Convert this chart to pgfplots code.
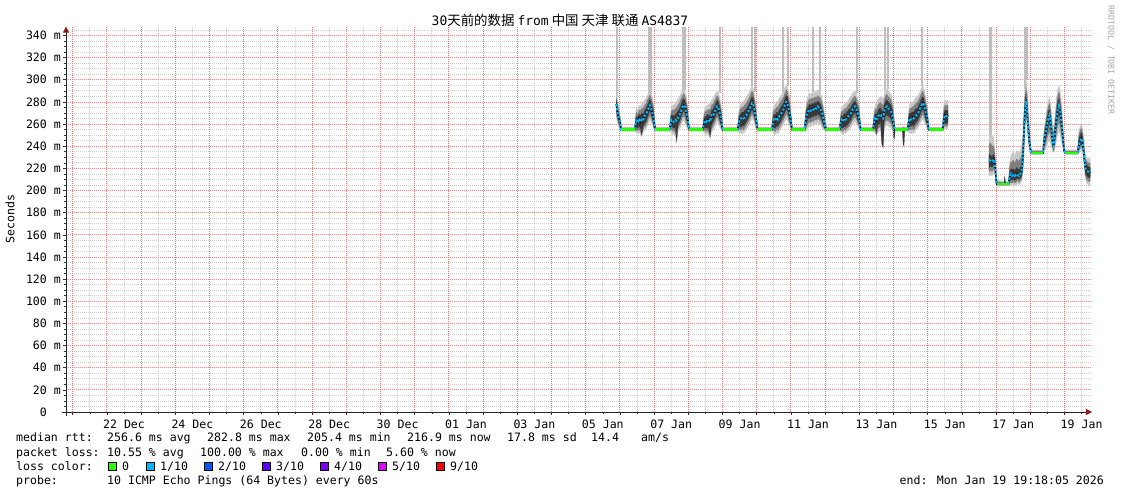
\documentclass[border=0pt]{standalone}
\usepackage{pgfplots}
\usepackage{pgfplotstable}
\pgfplotsset{compat=1.18}
\usepgfplotslibrary{fillbetween}
\usetikzlibrary{arrows.meta}
\usepackage{fontspec}
\setmainfont{DejaVu Sans Mono}
\newfontfamily\cjk{Noto Sans CJK SC}
\definecolor{lc0}{HTML}{26FF00}
\definecolor{lc1}{HTML}{00B8FF}
\definecolor{lc2}{HTML}{0059FF}
\definecolor{lc3}{HTML}{5E00FF}
\definecolor{lc4}{HTML}{7E00FF}
\definecolor{lc5}{HTML}{DD00FF}
\definecolor{lc9}{HTML}{FF0000}
\definecolor{mgrid}{HTML}{EE8C8C}
\definecolor{mgridx}{HTML}{E87878}
\definecolor{sgrid}{HTML}{D0D0D0}
\definecolor{arrowred}{HTML}{8B1A1A}
\definecolor{smokeA}{HTML}{C8C8C8}
\definecolor{smokeB}{HTML}{808080}
\definecolor{smokeC}{HTML}{383838}
\definecolor{spike}{HTML}{BEBEBE}
\newcommand\tf{\fontsize{11.6}{13}\selectfont}

\pgfplotstableread{
d lo cl m ch hi
15.89 266 273 278 282 288
15.92 262 268 273 278 285
15.95 258 263 267 271 280
15.98 256 260 264 267 274
16.01 254 256 261 264 270
16.03 253.5 254.3 255 256.5 262
16.06 253.5 254.3 255 255.8 257.5
16.43 253.5 254.3 255 255.8 257.5
16.45 253 255 259 263 268
16.48 252 257 263 267 275
16.52 251 256 261 266 273
16.56 252 258 265 269 277
16.60 250 256 262 268 276
16.64 248 250 264 270 279
16.68 252 258 263 269 280
16.72 254 260 267 272 282
16.76 255 262 269 274 283
16.80 257 265 271 277 286
16.84 261 269 275 280 289
16.88 263 272 277 283 291
16.92 261 268 274 279 288
16.96 258 263 269 275 284
16.99 255 259 265 270 278
17.02 253.5 254.3 256 260 266
17.05 253.5 254.3 255 255.8 257.5
17.45 253.5 254.3 255 255.8 257.5
17.47 253 256 258 262 268
17.50 252 258 264 268 276
17.54 251 257 263 268 277
17.58 250 256 262 267 278
17.62 249 256 264 269 279
17.66 242 244 263 270 281
17.70 253 259 266 272 283
17.74 255 262 268 274 285
17.78 257 265 271 277 288
17.82 261 269 275 281 290
17.86 263 272 277 283 292
17.90 261 270 276 282 291
17.94 258 264 270 276 286
17.98 255 260 266 271 279
18.01 253.5 254.3 257 261 267
18.04 253.5 254.3 255 255.8 257.5
18.42 253.5 254.3 255 255.8 257.5
18.44 253 255 258 262 268
18.48 251 257 263 267 275
18.52 250 256 262 267 276
18.56 251 257 264 269 277
18.60 249 255 263 268 278
18.64 247 248 262 268 279
18.68 252 259 268 273 282
18.72 254 261 267 273 283
18.76 256 264 270 276 286
18.80 259 267 273 279 288
18.84 262 271 276 282 290
18.88 260 268 275 280 289
18.92 257 263 270 276 285
18.96 255 259 266 271 279
18.99 253.5 254.3 257 261 267
19.02 253.5 254.3 255 255.8 257.5
19.44 253.5 254.3 255 255.8 257.5
19.46 253 256 259 263 269
19.50 252 258 264 268 277
19.54 251 257 265 270 279
19.58 252 259 266 271 280
19.62 251 258 265 271 281
19.66 253 260 267 273 283
19.70 255 262 268 274 285
19.74 257 264 270 276 287
19.78 259 267 273 279 289
19.82 262 270 276 282 292
19.86 264 273 279 285 295
19.90 263 271 278 284 293
19.94 259 265 272 277 287
19.98 255 260 266 271 280
20.01 253.5 254.3 257 261 267
20.04 253.5 254.3 255 255.8 257.5
20.44 253.5 254.3 255 255.8 257.5
20.46 253 256 259 263 270
20.50 251 257 264 269 277
20.54 250 256 263 268 278
20.58 252 258 266 271 280
20.62 251 258 264 270 281
20.66 253 260 267 273 284
20.70 255 262 269 275 286
20.74 257 265 271 277 288
20.78 259 267 273 279 290
20.82 262 270 277 283 293
20.86 264 273 280 286 296
20.90 263 272 279 285 295
20.94 259 266 273 279 289
20.98 256 261 268 273 282
21.02 253.5 254.3 257 261 267
21.05 253.5 254.3 255 255.8 257.5
21.40 253.5 254.3 255 255.8 257.5
21.42 253 257 262 266 272
21.46 254 261 268 273 282
21.50 256 264 271 276 286
21.54 258 266 273 278 288
21.58 257 265 272 277 287
21.62 259 267 274 279 289
21.66 258 266 273 278 288
21.70 260 268 275 280 290
21.74 259 267 274 279 289
21.78 261 269 276 281 291
21.82 260 268 275 280 290
21.86 259 267 274 279 289
21.90 257 264 271 276 286
21.94 255 260 266 271 280
21.98 254 257 261 265 272
22.02 253.5 254.3 255.5 258 264
22.05 253.5 254.3 255 255.8 257.5
22.42 253.5 254.3 255 255.8 257.5
22.44 253 255 259 263 268
22.48 251 257 264 268 276
22.52 250 256 262 267 276
22.56 252 258 265 270 278
22.60 251 257 264 269 279
22.64 253 259 266 271 280
22.68 254 260 267 273 282
22.72 255 262 268 274 284
22.76 257 264 270 276 286
22.80 259 267 273 278 288
22.84 261 269 275 280 289
22.88 262 270 276 281 290
22.92 260 267 273 278 288
22.96 257 263 269 274 284
23.00 255 259 265 270 278
23.03 253.5 254.3 256 259 265
23.06 253.5 254.3 255 255.8 257.5
23.40 253.5 254.3 255 255.8 257.5
23.42 253 256 260 264 270
23.46 252 258 265 270 278
23.50 249 250 263 269 279
23.54 252 259 267 272 282
23.58 253 260 268 274 284
23.62 254 261 269 275 285
23.66 240 241 266 272 284
23.70 238 239 265 271 283
23.73 253 262 272 278 288
23.77 258 267 275 281 291
23.81 259 268 276 282 292
23.85 258 267 274 280 290
23.89 257 266 273 279 289
23.93 256 264 271 277 287
23.97 254 260 267 273 283
24.00 247 248 260 266 275
24.03 246 247 256 260 266
24.05 253.5 254.3 255 255.8 257.5
24.26 253.5 254.3 255 255.8 257.5
24.28 240 241 255 256 258
24.31 240 241 255 256 258
24.33 253.5 254.3 255 255.8 257.5
24.41 253.5 254.3 255 255.8 257.5
24.43 253 256 260 264 270
24.47 252 258 265 270 278
24.51 251 258 264 270 279
24.55 252 259 266 271 280
24.59 251 258 265 271 281
24.63 253 260 267 273 283
24.67 255 262 268 274 285
24.71 256 263 269 275 286
24.75 258 266 272 278 288
24.79 261 269 275 281 291
24.83 263 272 278 284 294
24.87 264 273 279 285 295
24.91 261 268 275 280 290
24.95 258 263 270 275 284
24.99 255 259 265 270 278
25.02 253.5 254.3 256 259 265
25.05 253.5 254.3 255 255.8 257.5
25.44 253.5 254.3 255 255.8 257.5
25.46 254 258 263 268 276
25.50 256 261 268 273 282
25.54 255 260 267 272 281
25.58 256 261 268 273 282
25.60 257 262 267 272 280
}\segA

\pgfplotstableread{
d lo cl m ch hi
26.79 212 220 228 233 250
26.83 214 222 227 232 255
26.88 213 221 226 231 250
26.93 215 223 228 233 248
26.96 216 222 226 230 240
26.99 206 208 214 220 230
27.02 204.5 205 205.6 206.5 210
27.23 204.5 205 205.6 206.5 208
27.25 204.5 205 205.6 213 214
27.28 204.5 205 205.6 206.5 208
27.36 204.5 205 205.6 206.5 208
27.39 204 207 212 217 226
27.43 205 210 215 220 232
27.47 204 209 213 219 234
27.51 205 210 214 220 235
27.55 204 209 213 218 232
27.59 205 210 215 221 236
27.63 206 211 214 220 236
27.67 205 210 213 219 234
27.71 206 211 215 221 237
27.75 208 213 218 224 242
27.79 215 222 232 242 258
27.83 240 255 265 275 290
27.87 262 272 281 288 300
27.91 256 265 271 279 296
27.95 241 245 250 257 272
27.99 234 236 240 246 256
28.03 232.5 233 233.6 234.5 237
28.37 232.5 233 233.6 234.5 237
28.40 233 240 245 250 258
28.44 236 244 251 256 265
28.48 240 250 258 264 275
28.52 243 256 264 271 281
28.56 245 262 268 274 285
28.60 241 254 261 267 279
28.64 236 242 246 252 264
28.68 234 237 240 246 258
28.72 237 245 251 257 269
28.76 243 255 263 270 284
28.80 250 265 273 280 292
28.84 253 269 277 284 296
28.88 248 262 270 277 290
28.92 242 252 258 265 279
28.96 236 240 245 250 262
28.99 233 234 236 240 247
29.02 232.5 233 233.6 234.5 237
29.38 232.5 233 233.6 234.5 237
29.41 233 236 240 246 253
29.45 235 240 244 250 258
29.49 237 242 247 253 261
29.53 233 239 244 249 257
29.57 222 228 232 238 248
29.61 210 215 220 225 233
29.65 206 213 218 223 230
29.69 205 212 217 222 229
29.73 204 211 216 221 229
29.76 205 212 217 221 228
}\segB

\pgfplotstableread{
d y
15.915 284
15.915 348
15.915 nan
16.85 288
16.85 348
16.85 nan
16.91 287
16.91 348
16.91 nan
17.84 290
17.84 348
17.84 nan
17.90 291
17.90 348
17.90 nan
18.93 288
18.93 348
18.93 nan
19.86 294
19.86 348
19.86 nan
19.95 289
19.95 348
19.95 nan
20.77 289
20.77 348
20.77 nan
20.91 294
20.91 348
20.91 nan
21.64 289
21.64 348
21.64 nan
21.85 289
21.85 348
21.85 nan
22.93 288
22.93 348
22.93 nan
23.75 291
23.75 348
23.75 nan
23.84 292
23.84 348
23.84 nan
24.83 294
24.83 348
24.83 nan
27.85 292
27.85 348
27.85 nan
27.90 300
27.90 348
}\spikes

\pgfplotstableread{
d y
16.03 255
16.44 255
16.44 nan
17.03 255
17.46 255
17.46 nan
18.02 255
18.43 255
18.43 nan
19.00 255
19.45 255
19.45 nan
20.02 255
20.45 255
20.45 nan
21.03 255
21.41 255
21.41 nan
22.03 255
22.43 255
22.43 nan
23.04 255
23.41 255
23.41 nan
24.04 255
24.42 255
24.42 nan
25.03 255
25.45 255
25.45 nan
27.02 205.6
27.37 205.6
27.37 nan
28.03 233.6
28.38 233.6
28.38 nan
29.02 233.6
29.39 233.6
}\flats

\begin{document}
\begin{tikzpicture}
\begin{axis}[
  at={(66bp,82bp)}, anchor=south west,
  scale only axis, width=1026bp, height=385.4bp,
  xmin=-0.196, xmax=29.804, ymin=0, ymax=348,
  axis lines=left,
  axis line style={black!85, line width=0.8bp},
  x axis line style={shorten <=-4bp, -{Triangle[length=6bp,width=6bp,color=arrowred]}},
  y axis line style={shorten <=-4bp, -{Triangle[length=6bp,width=6bp,color=arrowred]}},
  xtick={0,1,...,29},
  xticklabels={,22 Dec,,24 Dec,,26 Dec,,28 Dec,,30 Dec,,01 Jan,,03 Jan,,05 Jan,,07 Jan,,09 Jan,,11 Jan,,13 Jan,,15 Jan,,17 Jan,,19 Jan},
  minor xtick={0.5,1.5,...,29.5},
  ytick={0,20,...,340},
  yticklabels={0\hphantom{xx},20 m,40 m,60 m,80 m,100 m,120 m,140 m,160 m,180 m,200 m,220 m,240 m,260 m,280 m,300 m,320 m,340 m},
  minor ytick={5,10,...,345},
  xmajorgrids=false, xminorgrids=true, ymajorgrids=true, yminorgrids=true,
  minor x grid style={sgrid, dash pattern=on 1bp off 1bp, line width=0.7bp},
  major y grid style={mgrid, dash pattern=on 1bp off 1bp, line width=0.8bp},
  minor y grid style={sgrid, dash pattern=on 1bp off 1bp, line width=0.7bp},
  tick align=outside, major tick length=3bp, minor tick length=2bp,
  tick style={black!80, line width=0.6bp},
  xticklabel style={font=\tf, inner sep=0pt, yshift=-5bp, xshift=17.1bp},
  yticklabel style={font=\tf, inner sep=0pt, xshift=-2bp},
  unbounded coords=jump,
]
% daily (major) vertical grid lines
\addplot[ycomb, mgridx, dash pattern=on 1bp off 1bp, line width=1bp, mark=none, forget plot]
  coordinates {(0,348) (1,348) (2,348) (3,348) (4,348) (5,348) (6,348) (7,348) (8,348) (9,348)
  (10,348) (11,348) (12,348) (13,348) (14,348) (15,348) (16,348) (17,348) (18,348) (19,348)
  (20,348) (21,348) (22,348) (23,348) (24,348) (25,348) (26,348) (27,348) (28,348) (29,348)};
% spikes (max pings)
\addplot[spike, line width=1.5bp, forget plot] table[x=d,y=y]{\spikes};
\addplot[spike, line width=3bp, forget plot] coordinates {(26.85,250) (26.85,348)};
% segment A smoke
\addplot[draw=none, name path=ahi, forget plot] table[x=d,y=hi]{\segA};
\addplot[draw=none, name path=alo, forget plot] table[x=d,y=lo]{\segA};
\addplot[draw=none, name path=ah2, forget plot] table[x=d,y expr=(\thisrow{hi}+\thisrow{ch})/2]{\segA};
\addplot[draw=none, name path=al2, forget plot] table[x=d,y expr=(\thisrow{lo}+\thisrow{cl})/2]{\segA};
\addplot[draw=none, name path=ach, forget plot] table[x=d,y=ch]{\segA};
\addplot[draw=none, name path=acl, forget plot] table[x=d,y=cl]{\segA};
\addplot[smokeA, forget plot] fill between[of=ahi and alo];
\addplot[smokeB, forget plot] fill between[of=ah2 and al2];
\addplot[smokeC, forget plot] fill between[of=ach and acl];
% segment B smoke
\addplot[draw=none, name path=bhi, forget plot] table[x=d,y=hi]{\segB};
\addplot[draw=none, name path=blo, forget plot] table[x=d,y=lo]{\segB};
\addplot[draw=none, name path=bh2, forget plot] table[x=d,y expr=(\thisrow{hi}+\thisrow{ch})/2]{\segB};
\addplot[draw=none, name path=bl2, forget plot] table[x=d,y expr=(\thisrow{lo}+\thisrow{cl})/2]{\segB};
\addplot[draw=none, name path=bch, forget plot] table[x=d,y=ch]{\segB};
\addplot[draw=none, name path=bcl, forget plot] table[x=d,y=cl]{\segB};
\addplot[smokeA, forget plot] fill between[of=bhi and blo];
\addplot[smokeB, forget plot] fill between[of=bh2 and bl2];
\addplot[smokeC, forget plot] fill between[of=bch and bcl];
% median lines
\addplot[black, line width=1.4bp, forget plot] table[x=d,y=m]{\segA};
\addplot[black, line width=1.4bp, forget plot] table[x=d,y=m]{\segB};
\addplot[lc1, line width=1.8bp, dash pattern=on 2.5bp off 1.5bp, forget plot] table[x=d,y=m]{\segA};
\addplot[lc1, line width=1.8bp, dash pattern=on 2.5bp off 1.5bp, forget plot] table[x=d,y=m]{\segB};
\addplot[lc0, line width=2.2bp, forget plot] table[x=d,y=y]{\flats};
\end{axis}
\path (0bp,0bp) rectangle (1121bp,494bp);
% title
\node[anchor=base, inner sep=0pt] at (560bp,468.7bp) {\fontsize{13}{15}\selectfont 30{\cjk\fontsize{13.5}{15}\selectfont 天前的数据 }from{\cjk\fontsize{13.5}{15}\selectfont{} 中国 天津 联通 }AS4837};
% y label and watermark
\node[rotate=90, inner sep=0pt] at (10bp,275bp) {\tf Seconds};
\node[rotate=-90, inner sep=0pt, text=black!35] at (1111bp,434bp) {\fontsize{8.3}{9}\selectfont RRDTOOL / TOBI OETIKER};
% legend lines
\begin{scope}[every node/.style={anchor=base west, inner sep=0pt, font=\tf}]
\node at (16bp,52bp) {median rtt:};
\node at (107bp,52bp) {256.6 ms avg};
\node at (207bp,52bp) {282.8 ms max};
\node at (307bp,52bp) {205.4 ms min};
\node at (407bp,52bp) {216.9 ms now};
\node at (507bp,52bp) {17.8 ms sd};
\node at (591bp,52bp) {14.4};
\node at (641bp,52bp) {am/s};
\node at (16bp,38bp) {packet loss:};
\node at (107bp,38bp) {10.55 \% avg};
\node at (200bp,38bp) {100.00 \% max};
\node at (301bp,38bp) {0.00 \% min};
\node at (386bp,38bp) {5.60 \% now};
\node at (16bp,24bp) {loss color:};
\node at (122bp,24bp) {0};
\node at (160bp,24bp) {1/10};
\node at (218bp,24bp) {2/10};
\node at (276bp,24bp) {3/10};
\node at (334bp,24bp) {4/10};
\node at (392bp,24bp) {5/10};
\node at (450bp,24bp) {9/10};
\node at (16bp,10bp) {probe:};
\node at (107bp,10bp) {10 ICMP Echo Pings (64 Bytes) every 60s};
\node[anchor=base east] at (1104bp,10bp) {end: Mon Jan 19 19:18:05 2026};
\end{scope}
\foreach \xx/\cc in {108/lc0,146/lc1,204/lc2,262/lc3,320/lc4,378/lc5,436/lc9}
  \draw[fill=\cc, line width=0.7bp] (\xx bp+0.5bp,24bp) rectangle ++(8bp,8bp);
\end{tikzpicture}
\end{document}
